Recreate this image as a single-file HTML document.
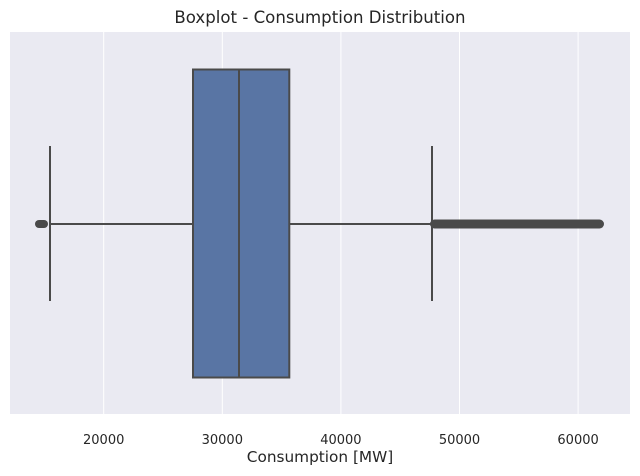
<!DOCTYPE html>
<html><head><meta charset="utf-8"><style>body{margin:0;background:#fff}</style></head><body>
<svg width="640" height="471" xmlns="http://www.w3.org/2000/svg" font-family="DejaVu Sans, sans-serif">
<rect x="10" y="32" width="620" height="382" fill="#eaeaf2"/>
<g stroke="#fff" stroke-width="1">
<line x1="103.7" y1="32" x2="103.7" y2="414"/><line x1="222.3" y1="32" x2="222.3" y2="414"/>
<line x1="340.9" y1="32" x2="340.9" y2="414"/><line x1="459.5" y1="32" x2="459.5" y2="414"/>
<line x1="578.1" y1="32" x2="578.1" y2="414"/></g>
<g stroke="#4a4a4a" stroke-width="2" fill="none">
<line x1="50" y1="224" x2="193" y2="224"/><line x1="289" y1="224" x2="432" y2="224"/>
<line x1="50" y1="146" x2="50" y2="301"/><line x1="432" y1="146" x2="432" y2="301"/>
<rect x="193" y="69.5" width="96.3" height="308" fill="#5975a4"/>
<line x1="239" y1="69.5" x2="239" y2="377.5"/>
</g>
<g fill="#4a4a4a">
<rect x="35" y="220" width="13" height="8" rx="4"/>
<rect x="430" y="219.5" width="174" height="9" rx="4.5"/>
</g>
<g font-size="13" fill="#262626" text-anchor="middle">
<text x="103.7" y="444">20000</text><text x="222.3" y="444">30000</text><text x="340.9" y="444">40000</text>
<text x="459.5" y="444">50000</text><text x="578.1" y="444">60000</text>
<text x="320" y="462" font-size="15.3">Consumption [MW]</text>
<text x="320" y="23" font-size="16.6">Boxplot - Consumption Distribution</text>
</g>
</svg></body></html>
